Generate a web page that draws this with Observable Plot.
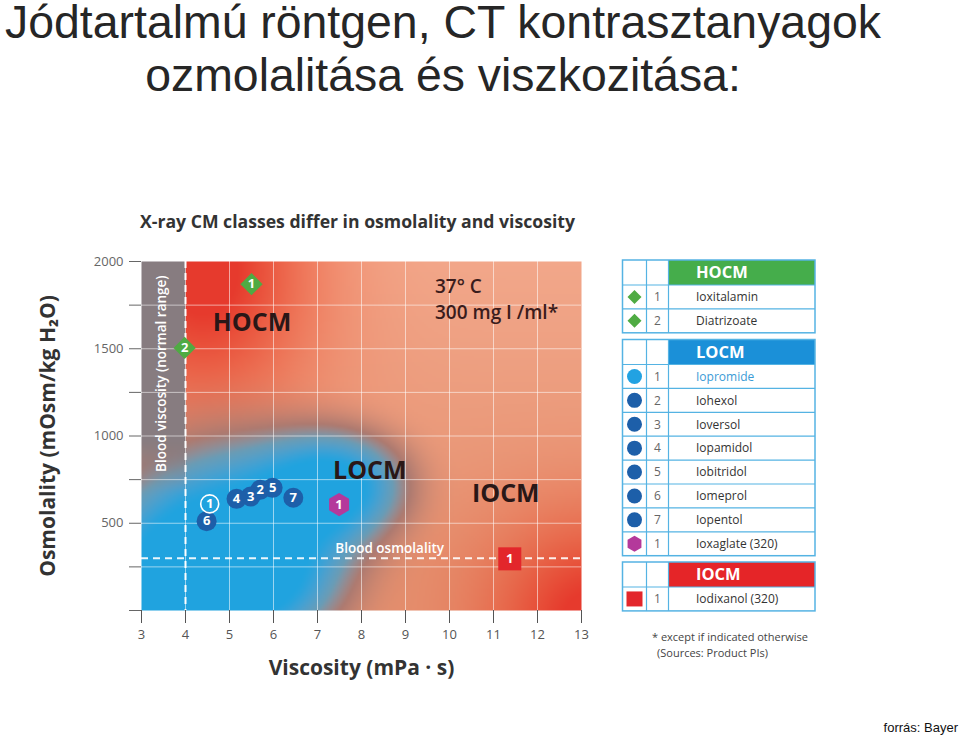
<!DOCTYPE html>
<html><head><meta charset="utf-8">
<script src="https://cdn.jsdelivr.net/npm/d3@7"></script>
<script src="https://cdn.jsdelivr.net/npm/@observablehq/plot@0.6"></script>
<style>
html,body{margin:0;padding:0;background:#fff;}
#root{position:relative;width:960px;height:735px;overflow:hidden;font-family:"Open Sans",sans-serif;}
#overlay{position:absolute;left:0;top:0;}
#chart{position:absolute;left:0;top:240px;}
</style></head>
<body><div id="root"><svg id="overlay" width="960" height="735"></svg><div id="chart"></div></div>
<script>
// ---------------- data ----------------
const titleLines = ["Jódtartalmú röntgen, CT kontrasztanyagok", "ozmolalitása és viszkozitása:"];
const chartTitle = "X-ray CM classes differ in osmolality and viscosity";
const sourceText = "forrás: Bayer";
const xLabel = "Viscosity (mPa · s)";
const yLabel = "Osmolality (mOsm/kg H₂O)";
const xTicks = [3, 4, 5, 6, 7, 8, 9, 10, 11, 12, 13];
const yTicks = [0, 250, 500, 750, 1000, 1250, 1500, 1750, 2000];
const yTickLabels = [500, 1000, 1500, 2000];
const gridX = [4, 5, 6, 7, 8, 9, 10, 11, 12];
const gridY = [250, 500, 750, 1000, 1250, 1500, 1750];

// HOCM (ionic monomers)
const hocmNames = ["Ioxitalamin", "Diatrizoate"];
const hocmNum = [1, 2];
const hocmVisc = [5.5, 3.98];
const hocmOsm = [1870, 1505];

// LOCM (non-ionic monomers)
const locmNames = ["Iopromide", "Iohexol", "Ioversol", "Iopamidol", "Iobitridol", "Iomeprol", "Iopentol"];
const locmNum = [1, 2, 3, 4, 5, 6, 7];
const locmVisc = [4.55, 5.70, 5.48, 5.16, 5.98, 4.48, 6.45];
const locmOsm = [611, 692, 653, 640, 703, 512, 646];

// LOCM ionic dimer
const ionicNames = ["Ioxaglate (320)"];
const ionicNum = [1];
const ionicVisc = [7.49];
const ionicOsm = [607];

// IOCM
const iocmNames = ["Iodixanol (320)"];
const iocmNum = [1];
const iocmVisc = [11.37];
const iocmOsm = [296];

// reference lines
const bloodViscosity = [4];
const bloodOsmolality = [300];

// annotations
const classLabels = ["HOCM", "LOCM", "IOCM"];
const classVisc = [5.51, 8.19, 11.28];
const classOsm = [1645, 797, 665];
const condLabels = ["37° C", "300 mg I /ml*"];
const condVisc = [9.67, 9.67];
const condOsm = [1852, 1705];
const footnotes = ["* except if indicated otherwise", "(Sources: Product PIs)"];

// ---------------- colours ----------------
const COL = {
  hocm: "#4fab43", locm: "#1d5fa9", locmLight: "#22a2e2", ionic: "#b4399b", iocm: "#e3262b",
  hocmHead: "#45ad4b", locmHead: "#1b90d8", iocmHead: "#e52528"
};
const cBlue = d3.lab("#20a3df"), cTeal = d3.lab("#6a9cb5"), cBrown = d3.lab("#ad7a70"), cRed = d3.lab("#e63a2d"),
      cSalmonLo = d3.lab("#e4906f"), cSalmonHi = d3.lab("#f2a78a"), cGray = d3.lab("#877c80");
function g(u, v, cu, cv, su, sv) { const a = (u - cu) / su, b = (v - cv) / sv; return Math.exp(-(a * a + b * b) / 2); }
function smooth(e0, e1, x) { const t = Math.max(0, Math.min(1, (x - e0) / (e1 - e0))); return t * t * (3 - 2 * t); }
function mixLab(c1, c2, t) { return {l: c1.l + (c2.l - c1.l) * t, a: c1.a + (c2.a - c1.a) * t, b: c1.b + (c2.b - c1.b) * t}; }
function bgColor(x, y) {
  const u = x, v = y / 250;
  const salmon = mixLab(cSalmonLo, cSalmonHi, Math.min(1, Math.max(0, (v - 1) / 7)));
  const rw = Math.min(1, 1.1 * Math.max(g(u, v, 4.4, 7.8, 1.8, 2.3), g(u, v, 13.3, -0.3, 1.7, 1.7)));
  const base = mixLab(salmon, cRed, rw);
  const f = g(u, v, 4.8, 1.5, 2.0, 2.0) + 0.8 * g(u, v, 7.6, 2.9, 1.3, 1.0) + 0.5 * g(u, v, 3.2, 0, 1.5, 1.5) + 0.3 * g(u, v, 6.3, 0.5, 1.3, 0.9);
  const bw = smooth(0.1, 1.0, f);
  let c;
  if (bw < 0.4) c = mixLab(base, cBrown, bw / 0.4);
  else if (bw < 0.7) c = mixLab(cBrown, cTeal, (bw - 0.4) / 0.3);
  else c = mixLab(cTeal, cBlue, (bw - 0.7) / 0.3);
  if (u < 4) c = mixLab(c, cGray, smooth(2.6, 4.0, v));
  return d3.lab(c.l, c.a, c.b).formatHex();
}

// ---------------- plot ----------------
const numText = {fill: "white", fontWeight: 700, fontSize: 13};
const chart = Plot.plot({
  width: 600, height: 460,
  marginLeft: 141, marginRight: 19, marginTop: 21, marginBottom: 90,
  x: {domain: [3, 13]},
  y: {domain: [0, 2000]},
  color: {type: "identity"},
  style: {fontFamily: "'Open Sans', sans-serif", background: "transparent", overflow: "visible"},
  marks: [
    Plot.raster({x1: 3, x2: 13, y1: 0, y2: 2000, fill: bgColor, pixelSize: 2}),
    Plot.ruleX(gridX, {stroke: "white", strokeOpacity: 0.55, strokeWidth: 1}),
    Plot.ruleY(gridY, {stroke: "white", strokeOpacity: 0.55, strokeWidth: 1}),
    Plot.ruleX(bloodViscosity, {stroke: "white", strokeWidth: 2, strokeDasharray: "7,5"}),
    Plot.ruleY(bloodOsmolality, {stroke: "white", strokeWidth: 2, strokeDasharray: "7,5", strokeOpacity: 0.9}),
    Plot.axisX({ticks: xTicks, tickSize: 13, tickPadding: 6, fontSize: 13, color: "#555", label: null, tickFormat: d => String(d)}),
    Plot.axisY({ticks: yTicks, tickSize: 12, tickPadding: 6, fontSize: 13, color: "#666", label: null, tickFormat: d => yTickLabels.includes(d) ? String(d) : ""}),
    Plot.text([xLabel], {frameAnchor: "bottom", dy: 58, textAnchor: "middle", lineAnchor: "middle", fontSize: 21, fontWeight: 700, fill: "#333"}),
    Plot.text([yLabel], {frameAnchor: "left", dx: -93, rotate: -90, textAnchor: "middle", lineAnchor: "middle", fontSize: 21, fontWeight: 700, fill: "#333"}),
    Plot.text(["Blood viscosity (normal range)"], {x: 3.46, y: 1357, rotate: -90, fontSize: 13.5, fontWeight: 600, fill: "white"}),
    Plot.text(["Blood osmolality"], {x: 8.64, y: 352, fontSize: 13.5, fontWeight: 600, fill: "white"}),
    Plot.text(classLabels, {x: classVisc, y: classOsm, fontSize: 25, fontWeight: 700, fill: "#2a1717"}),
    Plot.text(condLabels, {x: condVisc, y: condOsm, textAnchor: "start", fontSize: 19, fontWeight: 600, fill: "#3a1c1c"}),
    // HOCM diamonds
    Plot.dot(hocmNum, {x: hocmVisc, y: hocmOsm, symbol: "diamond2", r: 10, fill: COL.hocm}),
    Plot.text(hocmNum, {x: hocmVisc, y: hocmOsm, ...numText}),
    // LOCM circles
    Plot.dot(locmNum, {filter: (d, i) => i > 0, x: locmVisc, y: locmOsm, r: 10, fill: COL.locm}),
    Plot.dot(locmNum, {filter: (d, i) => i === 0, x: locmVisc, y: locmOsm, r: 9, fill: "none", stroke: "white", strokeWidth: 1.6}),
    Plot.text(locmNum, {x: locmVisc, y: locmOsm, ...numText}),
    // ionic dimer hexagon
    Plot.dot(ionicNum, {x: ionicVisc, y: ionicOsm, symbol: "hexagon", r: 10, fill: COL.ionic}),
    Plot.text(ionicNum, {x: ionicVisc, y: ionicOsm, ...numText}),
    // IOCM square
    Plot.dot(iocmNum, {x: iocmVisc, y: iocmOsm, symbol: "square", r: 13, fill: COL.iocm}),
    Plot.text(iocmNum, {x: iocmVisc, y: iocmOsm, ...numText})
  ]
});
document.getElementById("chart").appendChild(chart);

// ---------------- titles & legend ----------------
const svg = d3.select("#overlay");
svg.selectAll("text.title").data(titleLines).join("text")
  .attr("x", 443).attr("y", (d, i) => 38 + i * 53)
  .attr("text-anchor", "middle")
  .style("font-family", "'Liberation Sans', Arial, sans-serif").style("font-size", "46.4px").style("fill", "#262626")
  .text(d => d);
svg.append("text").attr("x", 140).attr("y", 228)
  .attr("textLength", 435).attr("lengthAdjust", "spacingAndGlyphs")
  .style("font-family", "'Open Sans', sans-serif").style("font-size", "17px").style("font-weight", 700).style("fill", "#333")
  .text(chartTitle);
svg.append("text").attr("x", 958).attr("y", 732).attr("text-anchor", "end")
  .style("font-family", "'Liberation Sans', Arial, sans-serif").style("font-size", "13px").style("fill", "#111")
  .text(sourceText);

const groups = [
  {title: "HOCM", head: COL.hocmHead, items: hocmNames.map((n, i) => ({sym: "diamond", fill: COL.hocm, num: hocmNum[i], name: n}))},
  {title: "LOCM", head: COL.locmHead, items: [
    ...locmNames.map((n, i) => ({sym: "circle", fill: i === 0 ? COL.locmLight : COL.locm, num: locmNum[i], name: n, nameFill: i === 0 ? "#3b9bd6" : null})),
    ...ionicNames.map((n, i) => ({sym: "hexagon", fill: COL.ionic, num: ionicNum[i], name: n}))]},
  {title: "IOCM", head: COL.iocmHead, items: iocmNames.map((n, i) => ({sym: "square", fill: COL.iocm, num: iocmNum[i], name: n}))}
];
const L = {x0: 622.5, x1: 646.5, x2: 668.5, x3: 815, headH: 25, rowH: 23.9, tops: [260, 339.5, 562]};
const border = "#55b3e3";
groups.forEach((gr, gi) => {
  const top = L.tops[gi];
  const bottom = top + L.headH + gr.items.length * L.rowH;
  const G = svg.append("g");
  G.append("rect").attr("x", L.x0).attr("y", top).attr("width", L.x3 - L.x0).attr("height", bottom - top).attr("fill", "white");
  G.append("rect").attr("x", L.x2).attr("y", top).attr("width", L.x3 - L.x2).attr("height", L.headH).attr("fill", gr.head);
  G.append("text").attr("x", 696).attr("y", top + L.headH / 2).attr("dy", "0.36em")
    .style("font-size", "16.5px").style("font-weight", 700).style("fill", "white").text(gr.title);
  gr.items.forEach((it, i) => {
    const cy = top + L.headH + (i + 0.5) * L.rowH;
    const cx = (L.x0 + L.x1) / 2;
    if (it.sym === "circle") G.append("circle").attr("cx", cx).attr("cy", cy).attr("r", 7.5).attr("fill", it.fill);
    else if (it.sym === "diamond") G.append("path").attr("d", `M${cx},${cy - 7}L${cx + 7},${cy}L${cx},${cy + 7}L${cx - 7},${cy}Z`).attr("fill", it.fill);
    else if (it.sym === "square") G.append("rect").attr("x", cx - 8).attr("y", cy - 7.5).attr("width", 16).attr("height", 15).attr("fill", it.fill);
    else if (it.sym === "hexagon") {
      const pts = d3.range(6).map(k => { const a = Math.PI / 3 * k - Math.PI / 2; return [cx + 8 * Math.cos(a), cy + 8 * Math.sin(a)]; });
      G.append("path").attr("d", "M" + pts.join("L") + "Z").attr("fill", it.fill);
    }
    G.append("text").attr("x", (L.x1 + L.x2) / 2).attr("y", cy).attr("dy", "0.36em").attr("text-anchor", "middle")
      .style("font-size", "12px").style("fill", "#666").text(it.num);
    G.append("text").attr("x", 696).attr("y", cy).attr("dy", "0.36em")
      .style("font-size", "12px").style("fill", it.nameFill || "#333").text(it.name);
    if (i < gr.items.length - 1) G.append("line").attr("x1", L.x0).attr("x2", L.x3).attr("y1", cy + L.rowH / 2).attr("y2", cy + L.rowH / 2).attr("stroke", border).attr("stroke-width", 1.2);
  });
  G.append("line").attr("x1", L.x0).attr("x2", L.x3).attr("y1", top + L.headH).attr("y2", top + L.headH).attr("stroke", border).attr("stroke-width", 1.2);
  [L.x1, L.x2].forEach(xx => G.append("line").attr("x1", xx).attr("x2", xx).attr("y1", top).attr("y2", bottom).attr("stroke", border).attr("stroke-width", 1.2));
  G.append("rect").attr("x", L.x0).attr("y", top).attr("width", L.x3 - L.x0).attr("height", bottom - top)
    .attr("fill", "none").attr("stroke", border).attr("stroke-width", 1.5);
});
svg.selectAll("text.foot").data(footnotes).join("text")
  .attr("x", (d, i) => i === 0 ? 652 : 657).attr("y", (d, i) => 641 + i * 16)
  .style("font-size", "11px").style("fill", "#444").text(d => d);
</script></body></html>
